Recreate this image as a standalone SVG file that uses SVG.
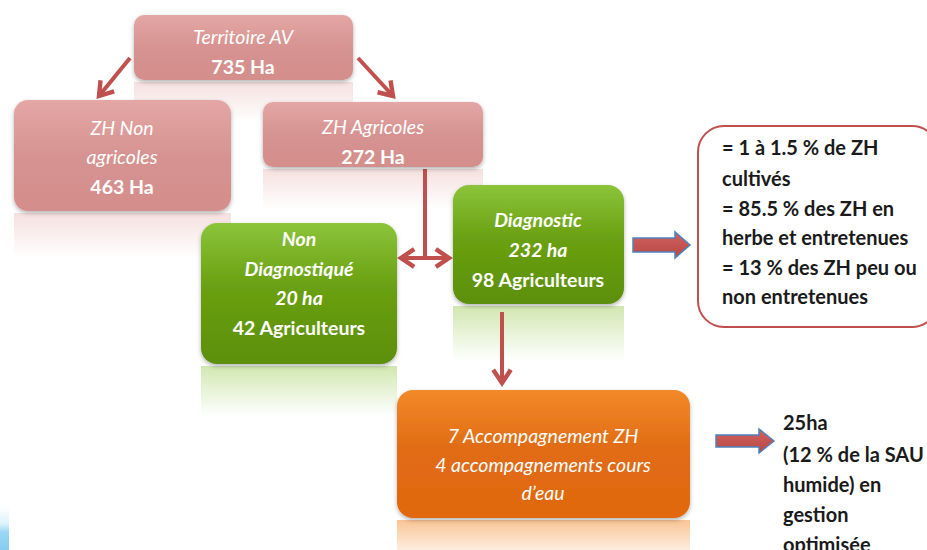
<svg xmlns="http://www.w3.org/2000/svg" width="927" height="550" viewBox="0 0 927 550">
<defs>
<style>
.t{font-family:Lato,"Open Sans","Liberation Sans",sans-serif;font-size:19.5px;fill:#ffffff;text-anchor:middle}
.i{font-style:italic}
.b{font-weight:bold}
.k{font-family:Lato,"Open Sans","Liberation Sans",sans-serif;font-size:20px;font-weight:bold;fill:#1a1a1a}
.con{stroke:#c0504d;stroke-width:4;fill:none}
.barrow{fill:url(#gArr);stroke:#4f81bd;stroke-width:1.5}
</style>
<linearGradient id="gPink" x1="0" y1="0" x2="0" y2="1">
<stop offset="0" stop-color="#e3a7a5"/><stop offset="0.5" stop-color="#d69391"/><stop offset="1" stop-color="#d48e8c"/>
</linearGradient>
<linearGradient id="gGreen" x1="0" y1="0" x2="0" y2="1">
<stop offset="0" stop-color="#8cc43a"/><stop offset="0.45" stop-color="#6aa012"/><stop offset="1" stop-color="#5c8f0a"/>
</linearGradient>
<linearGradient id="gOrange" x1="0" y1="0" x2="0" y2="1">
<stop offset="0" stop-color="#f4892a"/><stop offset="0.45" stop-color="#e06c14"/><stop offset="1" stop-color="#e1680f"/>
</linearGradient>
<linearGradient id="rPink" x1="0" y1="0" x2="0" y2="1">
<stop offset="0" stop-color="#e3a7a5" stop-opacity="0.35"/><stop offset="1" stop-color="#e3a7a5" stop-opacity="0"/>
</linearGradient>
<linearGradient id="rGreen" x1="0" y1="0" x2="0" y2="1">
<stop offset="0" stop-color="#8cc43a" stop-opacity="0.4"/><stop offset="1" stop-color="#8cc43a" stop-opacity="0"/>
</linearGradient>
<linearGradient id="rOrange" x1="0" y1="0" x2="0" y2="1">
<stop offset="0" stop-color="#f4892a" stop-opacity="0.5"/><stop offset="1" stop-color="#f4892a" stop-opacity="0.15"/>
</linearGradient>
<linearGradient id="gArr" x1="0" y1="0" x2="0" y2="1">
<stop offset="0" stop-color="#d0625f"/><stop offset="1" stop-color="#b84743"/>
</linearGradient>
<linearGradient id="gBlue" x1="0" y1="0" x2="0" y2="1">
<stop offset="0" stop-color="#ffffff"/><stop offset="0.4" stop-color="#dff3fc"/><stop offset="0.6" stop-color="#9ad6f4"/><stop offset="1" stop-color="#86cdf2"/>
</linearGradient>
<filter id="sh" x="-10%" y="-10%" width="120%" height="130%">
<feDropShadow dx="0" dy="2" stdDeviation="2" flood-color="#000" flood-opacity="0.3"/>
</filter>
<marker id="chev" viewBox="0 0 10 10" refX="7" refY="5" markerWidth="5.5" markerHeight="5.5" orient="auto-start-reverse" markerUnits="strokeWidth">
<path d="M1,1 L7,5 L1,9" fill="none" stroke="#c0504d" stroke-width="2"/>
</marker>
</defs>
<rect width="927" height="550" fill="#ffffff"/>
<rect x="0" y="506" width="9" height="44" fill="url(#gBlue)"/>

<g id="reflections">
<rect x="134" y="82" width="219" height="40" fill="url(#rPink)"/>
<rect x="14" y="213" width="217" height="45" fill="url(#rPink)"/>
<rect x="263" y="169" width="220" height="40" fill="url(#rPink)"/>
<rect x="201" y="366" width="196" height="50" fill="url(#rGreen)"/>
<rect x="453" y="306" width="171" height="55" fill="url(#rGreen)"/>
<rect x="397" y="520" width="293" height="30" fill="url(#rOrange)"/>
</g>

<g id="connectors">
<line class="con" x1="130" y1="58" x2="99" y2="96" marker-end="url(#chev)"/>
<line class="con" x1="358" y1="58" x2="393" y2="96" marker-end="url(#chev)"/>
<line class="con" x1="425" y1="169" x2="425" y2="258"/>
<line class="con" x1="401" y1="258" x2="449" y2="258" marker-start="url(#chev)" marker-end="url(#chev)"/>
<line class="con" x1="502" y1="312" x2="502" y2="383" marker-end="url(#chev)"/>
<path class="barrow" d="M633,238 L675,238 L675,232 L690,245 L675,258 L675,252 L633,252 Z"/>
<path class="barrow" d="M716,435 L759,435 L759,429 L774,441 L759,453 L759,447 L716,447 Z"/>
</g>

<g id="n-territoire">
<rect x="134" y="15" width="219" height="65" rx="10" fill="url(#gPink)" filter="url(#sh)"/>
<text class="t i" x="243" y="44">Territoire AV</text>
<text class="t b" x="243" y="74">735 Ha</text>
</g>

<g id="n-zh-non-agricoles">
<rect x="14" y="100" width="217" height="111" rx="14" fill="url(#gPink)" filter="url(#sh)"/>
<text class="t i" x="122" y="135">ZH Non</text>
<text class="t i" x="122" y="164">agricoles</text>
<text class="t b" x="122" y="194">463 Ha</text>
</g>

<g id="n-zh-agricoles">
<rect x="263" y="102" width="220" height="65" rx="10" fill="url(#gPink)" filter="url(#sh)"/>
<text class="t i" x="373" y="134">ZH Agricoles</text>
<text class="t b" x="373" y="164">272 Ha</text>
</g>

<g id="n-non-diagnostique">
<rect x="201" y="223" width="196" height="141" rx="16" fill="url(#gGreen)" filter="url(#sh)"/>
<text class="t i b" x="299" y="246">Non</text>
<text class="t i b" x="299" y="276">Diagnostiqué</text>
<text class="t i b" x="299" y="305">20 ha</text>
<text class="t b" x="299" y="335">42 Agriculteurs</text>
</g>

<g id="n-diagnostic">
<rect x="453" y="185" width="171" height="119" rx="16" fill="url(#gGreen)" filter="url(#sh)"/>
<text class="t i b" x="538" y="227">Diagnostic</text>
<text class="t i b" x="538" y="257">232 ha</text>
<text class="t b" x="538" y="287">98 Agriculteurs</text>
</g>

<g id="n-accompagnement">
<rect x="397" y="390" width="293" height="128" rx="16" fill="url(#gOrange)" filter="url(#sh)"/>
<text class="t i" x="543" y="443">7 Accompagnement ZH</text>
<text class="t i" x="543" y="472">4 accompagnements cours</text>
<text class="t i" x="543" y="500">d’eau</text>
</g>

<g id="n-callout">
<rect x="698" y="126" width="240" height="201" rx="26" fill="#ffffff" stroke="#c0504d" stroke-width="2"/>
<text class="k" x="722" y="155">= 1 à 1.5 % de ZH</text>
<text class="k" x="722" y="186">cultivés</text>
<text class="k" x="722" y="216">= 85.5 % des ZH en</text>
<text class="k" x="722" y="245">herbe et entretenues</text>
<text class="k" x="722" y="275">= 13 % des ZH peu ou</text>
<text class="k" x="722" y="304">non entretenues</text>
</g>

<g id="n-resultat">
<text class="k" x="783" y="430">25ha</text>
<text class="k" x="783" y="462">(12 % de la SAU</text>
<text class="k" x="783" y="492">humide) en</text>
<text class="k" x="783" y="522">gestion</text>
<text class="k" x="783" y="552">optimisée</text>
</g>
</svg>
